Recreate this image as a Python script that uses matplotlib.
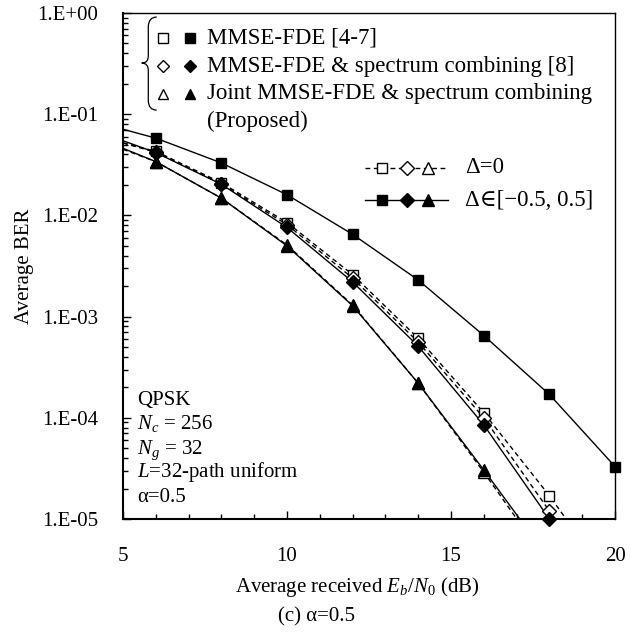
import numpy as np
import matplotlib
matplotlib.use("Agg")
import matplotlib.pyplot as plt
from matplotlib.path import Path
from matplotlib.patches import PathPatch
from matplotlib.ticker import FuncFormatter, LogLocator, MultipleLocator

plt.rcParams['font.family'] = ['Liberation Serif', 'DejaVu Serif']
plt.rcParams['mathtext.fontset'] = 'custom'
plt.rcParams['mathtext.rm'] = 'Liberation Serif'
plt.rcParams['mathtext.it'] = 'Liberation Serif:italic'

# Eb/N0 (dB)
snr = np.array([5, 6, 8, 10, 12, 14, 16, 18, 20])

# Delta = 0 (dashed, open markers)
mmse_ideal = np.array([0.052, 0.043, 0.021, 0.0085, 0.0026, 6.1e-4, 1.12e-4, 1.7e-5, 2.1e-6])
comb_ideal = np.array([0.052, 0.042, 0.0205, 0.0081, 0.0024, 5.6e-4, 1.0e-4, 1.2e-5, 1.5e-6])
joint_ideal = np.array([0.045, 0.034, 0.0148, 0.0051, 0.0013, 2.2e-4, 2.9e-5, 3.5e-6, np.nan])

# Delta in [-0.5, 0.5] (solid, filled markers)
mmse_off = np.array([0.071, 0.058, 0.033, 0.016, 0.0065, 0.0023, 6.5e-4, 1.7e-4, 3.3e-5])
comb_off = np.array([0.0547, 0.0417, 0.0203, 0.0076, 0.0022, 5.1e-4, 8.5e-5, 1.0e-5, 1.0e-6])
joint_off = np.array([0.046, 0.034, 0.0148, 0.0050, 0.00128, 2.2e-4, 3.05e-5, 4.0e-6, np.nan])

legend_labels = ['MMSE-FDE [4-7]', 'MMSE-FDE & spectrum combining [8]',
                 'Joint MMSE-FDE & spectrum combining\n(Proposed)']
delta_labels = ['\u0394=0', '\u0394\u2208[\u22120.5, 0.5]']
notes = ['QPSK', '$N_c$ = 256', '$N_g$ = 32', '$L$=32-path uniform', '\u03b1=0.5']

W, H = 630, 640
fig = plt.figure(figsize=(W / 100, H / 100), dpi=100)
ax = fig.add_axes([123 / W, 1 - 519 / H, 492 / W, 506 / H])

markers = {'s': 7.2, 'D': 7.2, '^': 9.0}
ymin = 1e-5


def draw(y, marker, filled):
    ls = '-' if filled else (0, (3.5, 2.5))
    ax.plot(snr, y, color='black', lw=1.0, ls=ls, zorder=2)
    vis = (snr >= 6) & (y >= ymin * 0.95)
    ax.plot(snr[vis], y[vis], ls='none', marker=marker, ms=markers[marker],
            mfc='black' if filled else 'white', mec='black', mew=1.0,
            clip_on=False, zorder=4 if filled else 3)


for y, m in [(mmse_ideal, 's'), (comb_ideal, 'D'), (joint_ideal, '^')]:
    draw(y, m, False)
for y, m in [(mmse_off, 's'), (comb_off, 'D'), (joint_off, '^')]:
    draw(y, m, True)

ax.set_yscale('log')
ax.set_xlim(5, 20)
ax.set_ylim(ymin, 1)
ax.xaxis.set_major_locator(MultipleLocator(5))
ax.xaxis.set_minor_locator(MultipleLocator(1))
ax.yaxis.set_major_locator(LogLocator(base=10, numticks=10))
ax.yaxis.set_minor_locator(LogLocator(base=10, subs=np.arange(2, 10), numticks=20))


def fmt(v, pos):
    e = int(round(np.log10(v)))
    return '1.E+00' if e >= 0 else '1.E-%02d' % (-e)


ax.yaxis.set_major_formatter(FuncFormatter(fmt))
ax.tick_params(which='both', direction='in', top=False, right=False, width=1.0,
               labelsize=15)
ax.tick_params(which='major', length=5.5)
ax.tick_params(which='minor', length=3.5)
ax.tick_params(axis='y', which='minor', labelleft=False)
ax.tick_params(axis='x', pad=20.5)
ax.tick_params(axis='y', pad=18)
for s in ['left', 'bottom']:
    ax.spines[s].set_linewidth(1.5)
for s in ['top', 'right']:
    ax.spines[s].set_linewidth(1.0)

# top-left legend with brace
tr = ax.transAxes
rows = [0.951, 0.895, 0.840]
for fy, m, lab in zip(rows, ['s', 'D', '^'], legend_labels):
    lms = {'s': 7.0, 'D': 6.2, '^': 7.5}[m]
    ax.plot([0.0807], [fy], transform=tr, marker=m, ms=lms, mfc='white', mec='black',
            mew=1.0, ls='none', clip_on=False)
    ax.plot([0.136], [fy], transform=tr, marker=m, ms=lms, mfc='black', mec='black',
            ls='none', clip_on=False)
ax.text(0.170, 0.951, legend_labels[0], transform=tr, fontsize=16.5, va='center')
ax.text(0.170, 0.895, legend_labels[1], transform=tr, fontsize=16.5, va='center')
ax.text(0.170, 0.840, legend_labels[2].split('\n')[0], transform=tr, fontsize=16.5, va='center')
ax.text(0.170, 0.785, legend_labels[2].split('\n')[1], transform=tr, fontsize=16.5, va='center')

bx, tx, tipx = 0.0514, 0.0685, 0.038
verts = [(tx, 0.992), (bx, 0.992), (bx, 0.972), (bx, 0.915),
         (bx, 0.901), (tipx, 0.901), (bx, 0.901), (bx, 0.887),
         (bx, 0.828), (bx, 0.808), (tx, 0.808)]
codes = [Path.MOVETO, Path.CURVE3, Path.CURVE3, Path.LINETO,
         Path.CURVE3, Path.CURVE3, Path.CURVE3, Path.CURVE3,
         Path.LINETO, Path.CURVE3, Path.CURVE3]
ax.add_patch(PathPatch(Path(verts, codes), transform=tr, fill=False, lw=0.9,
                       edgecolor='black', clip_on=False))

# line-style legend
for fy, filled, lab in [(0.694, False, delta_labels[0]), (0.630, True, delta_labels[1])]:
    ax.plot([0.492, 0.661], [fy, fy], transform=tr, color='black', lw=1.0,
            ls='-' if filled else (0, (3.5, 2.5)), clip_on=False)
    for fx, m in zip([0.526, 0.577, 0.619], ['s', 'D', '^']):
        ax.plot([fx], [fy], transform=tr, marker=m, ms=markers[m] if m != '^' else 8.5,
                mfc='black' if filled else 'white', mec='black', mew=1.0, ls='none')
    ax.text(0.695, fy, lab, transform=tr, fontsize=16.5, va='center')

# parameter notes
for fy, t in zip([0.2253, 0.1773, 0.1285, 0.0824, 0.0342], notes):
    ax.text(0.028, fy, t, transform=tr, fontsize=15, va='baseline')

fig.text(357 / W, 1 - 587 / H, 'Average received $E_b/N_0$ (dB)', fontsize=15,
         ha='center', va='center')
fig.text(317 / W, 1 - 617 / H, '(c) \u03b1=0.5', fontsize=15, ha='center', va='center')
fig.text(24 / W, 1 - 266 / H, 'Average BER', fontsize=15, rotation=90,
         ha='center', va='center')

fig.savefig('out.png', dpi=100)
